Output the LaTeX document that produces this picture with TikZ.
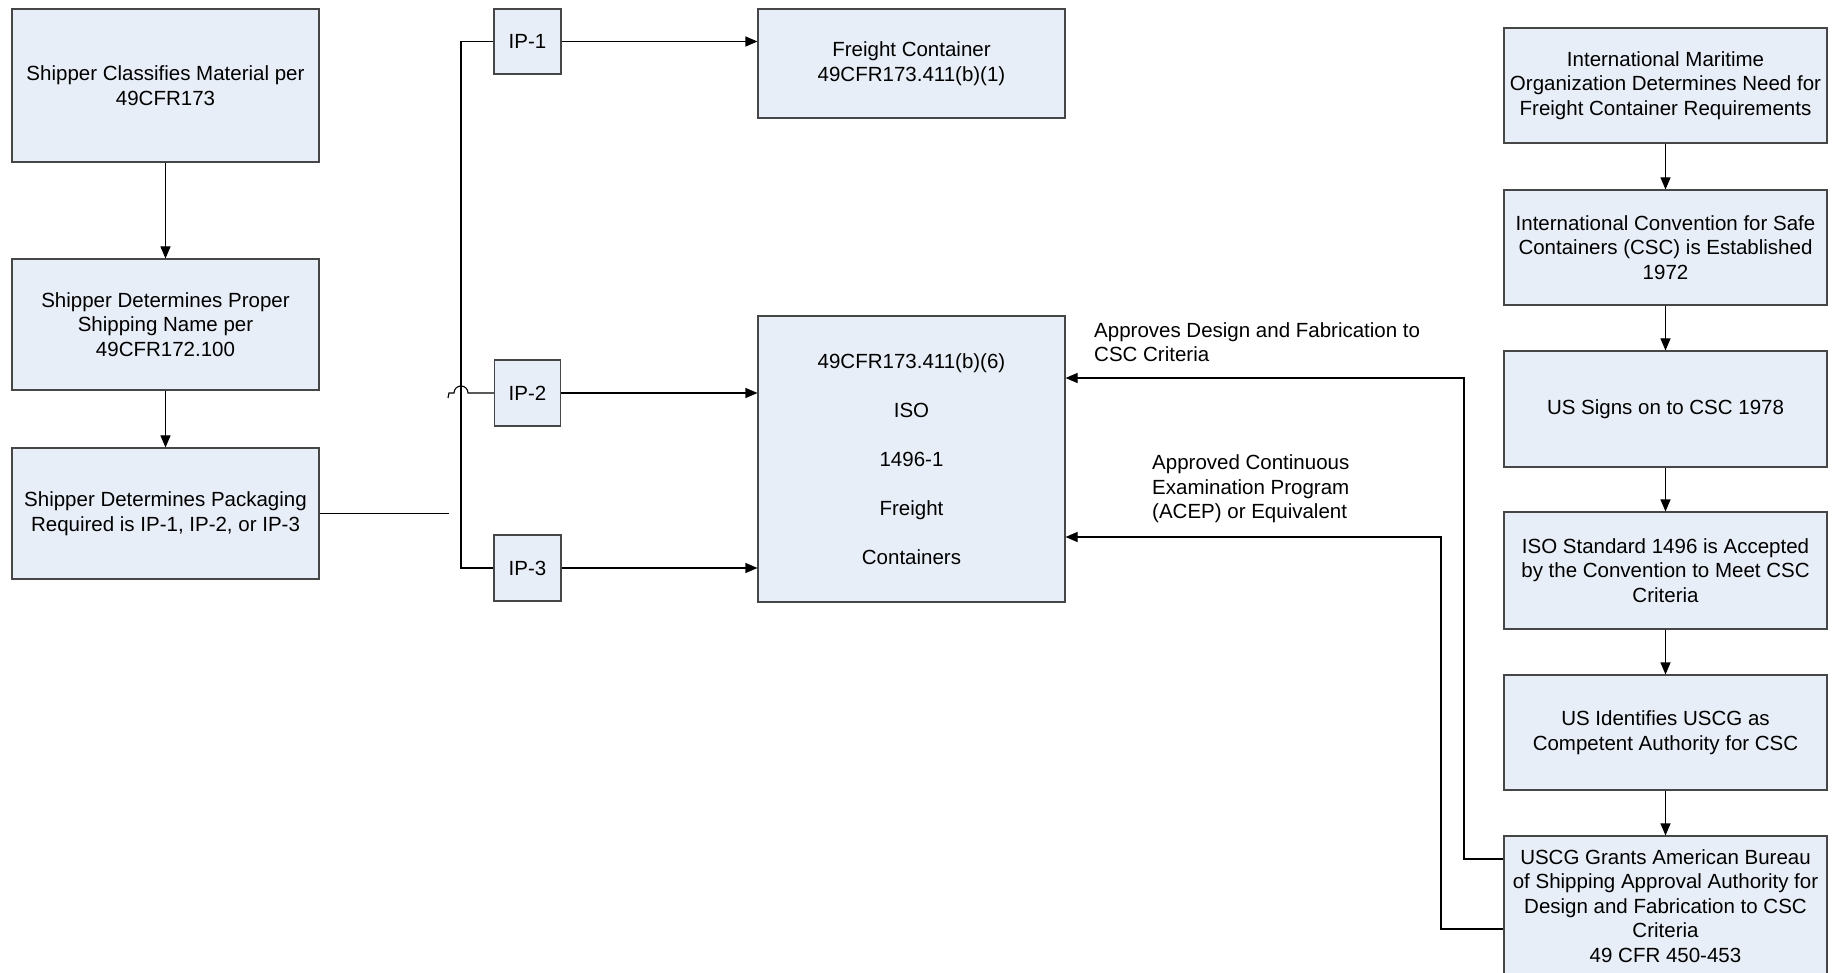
\documentclass[tikz,border=0pt]{standalone}
\usepackage{fontspec}
\setmainfont{Liberation Sans}
\usetikzlibrary{arrows.meta}
\definecolor{boxfill}{RGB}{232,238,247}
\definecolor{boxline}{RGB}{70,70,70}
\begin{document}
\begin{tikzpicture}[x=1pt,y=-1pt,
  box/.style={draw=boxline,line width=1.1pt,fill=boxfill,align=center,inner sep=2pt,
    font=\fontsize{20.5}{24.6}\selectfont},
  conn/.style={line width=1.1pt,draw=black},
  arr/.style={conn,-{Triangle[length=12pt,width=10pt]}},
  lbl/.style={align=left,inner sep=0pt,anchor=west,font=\fontsize{20.5}{24.6}\selectfont}]
\useasboundingbox (0,0) rectangle (1837,973);
\clip (0,0) rectangle (1837,973);
\fill[white] (0,0) rectangle (1837,973);
% left column
\node[box,minimum width=307pt,minimum height=153pt] (B1) at (165.5,85.5) {Shipper Classifies Material per\\49CFR173};
\node[box,minimum width=307pt,minimum height=131pt] (B2) at (165.5,324.5) {Shipper Determines Proper\\Shipping Name per\\49CFR172.100};
\node[box,minimum width=307pt,minimum height=131pt] (B3) at (165.5,513.5) {Shipper Determines Packaging\\Required is IP-1, IP-2, or IP-3};
% IP boxes
\node[box,minimum width=67pt,minimum height=65pt] (IP1) at (527.5,41.5) {IP-1};
\node[box,minimum width=66pt,minimum height=66pt] (IP2) at (527.5,393) {IP-2};
\node[box,minimum width=67pt,minimum height=66pt] (IP3) at (527.5,568) {IP-3};
% middle
\node[box,minimum width=307pt,minimum height=109pt] (FC) at (911.5,63.5) {Freight Container\\49CFR173.411(b)(1)};
\node[box,minimum width=307pt,minimum height=286pt,font=\fontsize{20.5}{49}\selectfont] (BIG) at (911.5,459) {49CFR173.411(b)(6)\\ISO\\1496-1\\Freight\\Containers};
% right column
\node[box,minimum width=323pt,minimum height=115pt] (R1) at (1665.5,85.5) {International Maritime\\Organization Determines Need for\\Freight Container Requirements};
\node[box,minimum width=323pt,minimum height=115pt] (R2) at (1665.5,247.5) {International Convention for Safe\\Containers (CSC) is Established\\1972};
\node[box,minimum width=323pt,minimum height=116pt] (R3) at (1665.5,409) {US Signs on to CSC 1978};
\node[box,minimum width=323pt,minimum height=117pt] (R4) at (1665.5,570.5) {ISO Standard 1496 is Accepted\\by the Convention to Meet CSC\\Criteria};
\node[box,minimum width=323pt,minimum height=115pt] (R5) at (1665.5,732.5) {US Identifies USCG as\\Competent Authority for CSC};
\node[box,minimum width=323pt,minimum height=140pt] (R6) at (1665.5,906) {USCG Grants American Bureau\\of Shipping Approval Authority for\\Design and Fabrication to CSC\\Criteria\\49 CFR 450-453};
% labels
\node[lbl] (L1) at (1094,342) {Approves Design and Fabrication to\\CSC Criteria};
\node[lbl] (L2) at (1152,489) {Approved Continuous\\Examination Program\\(ACEP) or Equivalent};
% coordinates
\coordinate (b3end) at (449,513.5);
\coordinate (busb) at (461,568);
\coordinate (hop) at (448,398);
\coordinate (j1) at (1464,378);
\coordinate (j2) at (1441,537);
% connectors left
\draw[arr] (B1) -- (B2);
\draw[arr] (B2) -- (B3);
\draw[conn] (B3.east) -- (b3end);
\draw[conn] (IP1.west) -| (busb) -- (IP3.west);
\draw[conn] (hop) -- (449,393) -- (454,393) arc[start angle=180,end angle=360,radius=7] -- (IP2.west);
\draw[arr] (IP1.east) -- (FC.west |- IP1.east);
\draw[arr] (IP2.east) -- (BIG.west |- IP2.east);
\draw[arr] (IP3.east) -- (BIG.west |- IP3.east);
% right column
\draw[arr] (R1) -- (R2);
\draw[arr] (R2) -- (R3);
\draw[arr] (R3) -- (R4);
\draw[arr] (R4) -- (R5);
\draw[arr] (R5) -- (R6);
\draw[arr] ([yshift=47pt]R6.west) -| (j1) -- (BIG.east |- j1);
\draw[arr] ([yshift=-23pt]R6.west) -| (j2) -- (BIG.east |- j2);
\end{tikzpicture}
\end{document}
